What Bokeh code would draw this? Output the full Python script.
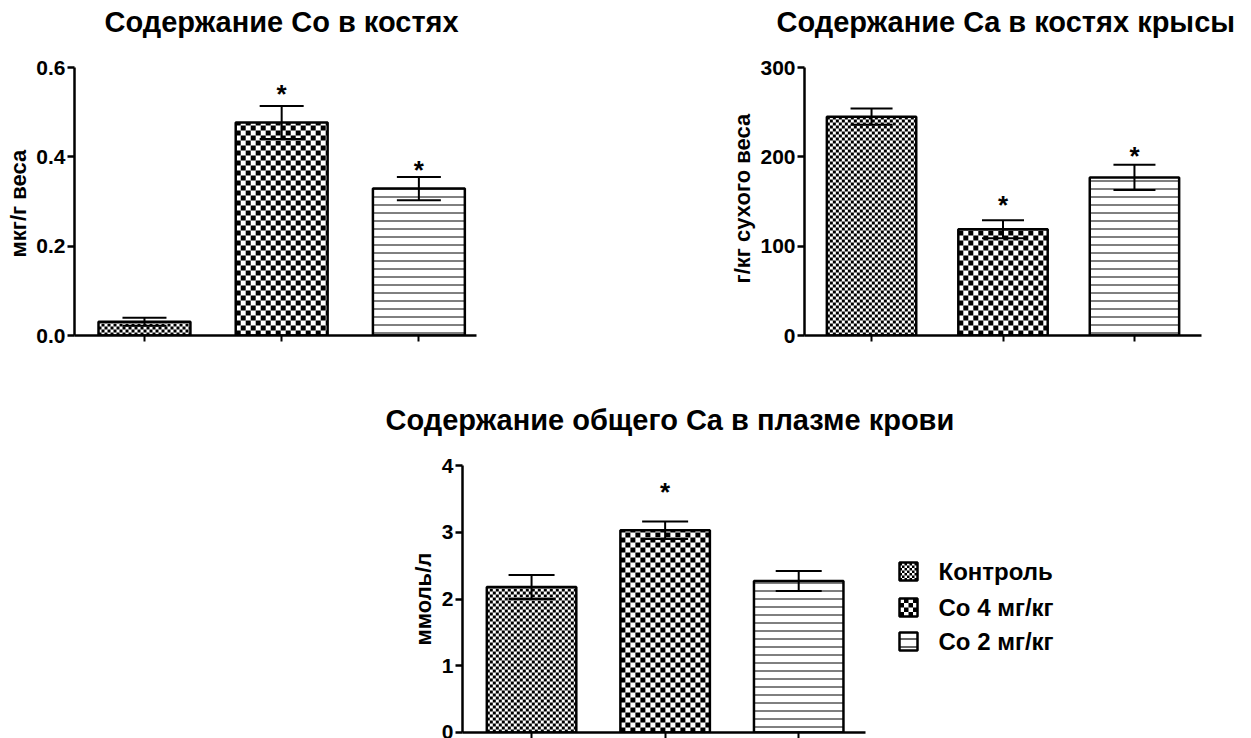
from bokeh.plotting import figure
from bokeh.models import (ColumnDataSource, Range1d, FixedTicker, Whisker, TeeHead,
                          Title, NumeralTickFormatter, Spacer)
from bokeh.layouts import column, row
from bokeh.core.properties import value
from bokeh.embed import file_html
from bokeh.resources import INLINE

FONT = "Liberation Sans"

# Experimental groups (same order in every panel)
groups = ["Контроль", "Co 4 мг/кг", "Co 2 мг/кг"]
group_x = [0, 1, 2]

# Co content in bone, µg/g
co_bone_mean = [0.031, 0.477, 0.329]
co_bone_err = [0.009, 0.037, 0.026]
co_bone_star_x = [1, 2]
co_bone_star_y = [0.548, 0.378]
co_bone_ticks = [0.0, 0.2, 0.4, 0.6]

# Ca content in rat bone, g/kg dry weight
ca_bone_mean = [245, 119, 177]
ca_bone_err = [9, 10, 14]
ca_bone_star_x = [1, 2]
ca_bone_star_y = [149, 204]
ca_bone_ticks = [0, 100, 200, 300]

# Total Ca in blood plasma, mmol/l
ca_plasma_mean = [2.18, 3.03, 2.27]
ca_plasma_err = [0.18, 0.13, 0.15]
ca_plasma_star_x = [1]
ca_plasma_star_y = [3.65]
ca_plasma_ticks = [0, 1, 2, 3, 4]

# fill style per group: checker cell size in px, or None for horizontal lines
group_cell = [3, 5, None]
legend_cell = [2.5, 4.5, None]


def checker_cells(x0, x1, y0, y1, cell, ux, uy):
    """Black squares of a checkerboard covering the box [x0,x1]x[y0,y1].
    cell is the square size in px, ux/uy are px per data unit."""
    cw, ch = cell / ux, cell / uy
    L, R, B, T = [], [], [], []
    i = 0
    while x0 + i * cw < x1 - 1e-9:
        j = 0
        while y0 + j * ch < y1 - 1e-9:
            if (i + j) % 2 == 0:
                L.append(x0 + i * cw)
                R.append(min(x0 + (i + 1) * cw, x1))
                B.append(y0 + j * ch)
                T.append(min(y0 + (j + 1) * ch, y1))
            j += 1
        i += 1
    return dict(left=L, right=R, bottom=B, top=T)


def panel(title, means, errs, star_x, star_y, ticks, fmt, ylabel,
          x_lo, x_hi, bar_w, cap, borders, axis_w, axis_h, frame_h, extra_w,
          title_dx, title_standoff, ylabel_dy):
    """Bar panel. The axes are bounded to the data area; the frame may reach further
    (above the last tick, and extra_w px to the right) to hold the legend."""
    left, right, top, bottom = borders
    ux = axis_w / (x_hi - x_lo)
    uy = axis_h / (ticks[-1] - ticks[0])
    head = Title(text=title, align="left", offset=title_dx, standoff=title_standoff,
                 text_font=FONT, text_font_size="29px", text_font_style="bold",
                 text_color="black")
    p = figure(frame_width=axis_w + extra_w, frame_height=frame_h, title=head,
               min_border_left=left, min_border_right=right,
               min_border_top=top, min_border_bottom=bottom,
               x_range=Range1d(x_lo, x_hi + extra_w / ux),
               y_range=Range1d(ticks[0], ticks[0] + frame_h / uy),
               output_backend="svg", toolbar_location=None,
               background_fill_color="white", border_fill_color="white")
    p.outline_line_color = None
    p.grid.visible = False

    for i in range(len(groups)):
        xl, xr = group_x[i] - bar_w / 2, group_x[i] + bar_w / 2
        if group_cell[i] is None:
            p.vbar(x=[group_x[i]], top=[means[i]], bottom=0, width=bar_w,
                   fill_color="white", line_color=None,
                   hatch_pattern="horizontal_line", hatch_scale=8, hatch_weight=1,
                   hatch_color="black")
        else:
            p.quad(source=ColumnDataSource(checker_cells(xl, xr, 0, means[i],
                                                          group_cell[i], ux, uy)),
                   left="left", right="right", bottom="bottom", top="top",
                   fill_color="black", line_color=None)
        p.vbar(x=[group_x[i]], top=[means[i]], bottom=0, width=bar_w,
               fill_color=None, line_color="black", line_width=2.5)

    esrc = ColumnDataSource(dict(
        x=group_x,
        upper=[m + e for m, e in zip(means, errs)],
        lower=[m - e for m, e in zip(means, errs)],
    ))
    w = Whisker(base="x", upper="upper", lower="lower", source=esrc,
                line_color="black", line_width=2, level="annotation",
                upper_head=TeeHead(size=cap, line_width=2, line_color="black"),
                lower_head=TeeHead(size=cap, line_width=2, line_color="black"))
    p.add_layout(w)

    p.text(x=star_x, y=star_y, text=["*"] * len(star_x),
           text_font=value(FONT), text_font_style="bold", text_font_size="26px",
           text_align="center", text_baseline="middle", y_offset=3, text_color="black")

    ya = p.yaxis[0]
    ya.bounds = (ticks[0], ticks[-1])
    ya.ticker = FixedTicker(ticks=ticks)
    ya.formatter = NumeralTickFormatter(format=fmt)
    ya.major_label_text_font = FONT
    ya.major_label_text_font_size = "21px"
    ya.major_label_text_font_style = "bold"
    ya.major_label_text_color = "black"
    ya.major_label_standoff = 2
    ya.axis_line_width = 2.5
    ya.major_tick_line_width = 2.5
    ya.major_tick_out = 7
    ya.major_tick_in = 0
    ya.minor_tick_line_color = None

    # y axis caption, placed along the bounded part of the axis
    p.add_layout(Title(text=ylabel, align="left", offset=ylabel_dy, standoff=6,
                       text_font=FONT, text_font_size="22px", text_font_style="bold",
                       text_color="black"), "left")

    xa = p.xaxis[0]
    xa.bounds = (x_lo, x_hi)
    xa.ticker = FixedTicker(ticks=group_x)
    xa.major_label_text_font_size = "0px"
    xa.major_label_standoff = 0
    xa.axis_line_width = 2.5
    xa.major_tick_line_width = 2
    xa.major_tick_out = 6
    xa.major_tick_in = 0
    xa.minor_tick_line_color = None
    return p, ux, uy


p1, _, _ = panel("Содержание Co в костях", co_bone_mean, co_bone_err,
                 co_bone_star_x, co_bone_star_y, co_bone_ticks, "0.0", "мкг/г веса",
                 -0.51, 2.42, 0.67, 44, (73, 25, 39, 35), 402, 268, 296, 0, 30, 4, 78)

p2, _, _ = panel("Содержание Ca в костях крысы", ca_bone_mean, ca_bone_err,
                 ca_bone_star_x, ca_bone_star_y, ca_bone_ticks, "0", "г/кг сухого веса",
                 -0.51, 2.51, 0.68, 42, (83, 50, 39, 35), 397, 268, 296, 0, -28, 4, 52)

p3, ux3, uy3 = panel("Содержание общего Ca в плазме крови", ca_plasma_mean, ca_plasma_err,
                     ca_plasma_star_x, ca_plasma_star_y, ca_plasma_ticks, "0", "ммоль/л",
                     -0.517, 2.50, 0.67, 46, (102, 0, 70, 6), 403, 267, 292, 385,
                     -77, 10, 87)

# legend to the right of the plasma bars; offsets in px from the frame's bottom-left
sw_dx, sw_size, label_dx = 437, 18, 476
row_dy = [161, 125, 91]
x_origin = p3.x_range.start
for i in range(len(groups)):
    x0 = x_origin + sw_dx / ux3
    x1 = x_origin + (sw_dx + sw_size) / ux3
    b0 = (row_dy[i] - sw_size / 2) / uy3
    b1 = (row_dy[i] + sw_size / 2) / uy3
    if legend_cell[i] is None:
        p3.quad(left=[x0], right=[x1], bottom=[b0], top=[b1],
                fill_color="white", line_color=None,
                hatch_pattern="horizontal_line", hatch_scale=8, hatch_weight=1.2,
                hatch_color="black")
    else:
        p3.quad(source=ColumnDataSource(checker_cells(x0, x1, b0, b1,
                                                       legend_cell[i], ux3, uy3)),
                left="left", right="right", bottom="bottom", top="top",
                fill_color="black", line_color=None)
    p3.quad(left=[x0], right=[x1], bottom=[b0], top=[b1],
            fill_color=None, line_color="black", line_width=2.5)

p3.text(x=[x_origin + label_dx / ux3] * len(groups), y=[d / uy3 for d in row_dy],
        text=groups, text_font=value(FONT), text_font_style="bold", text_font_size="24px",
        text_align="left", text_baseline="middle", text_color="black")

layout = column(
    row(p1, Spacer(width=220, height=10), p2),
    row(Spacer(width=360, height=10), p3),
)

open("out.html", "w").write(file_html(layout, INLINE))
